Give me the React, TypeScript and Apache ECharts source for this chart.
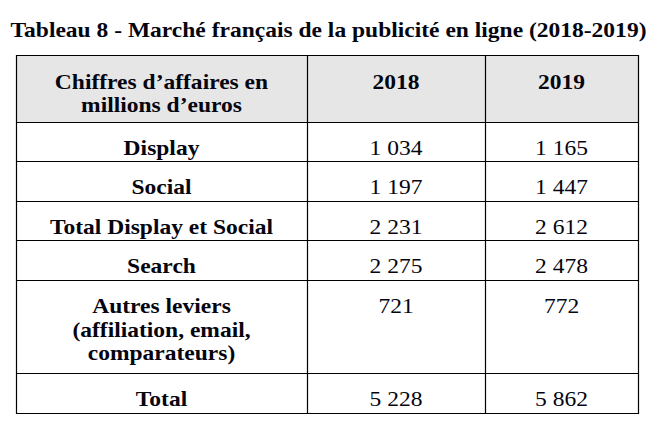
import React, { useEffect, useRef } from "react";
import * as echarts from "echarts";

const title = "Tableau 8 - Marché français de la publicité en ligne (2018-2019)";
const headerLabel = ["Chiffres d’affaires en", "millions d’euros"];
const years = ["2018", "2019"];
const rowLabels: string[][] = [
  ["Display"],
  ["Social"],
  ["Total Display et Social"],
  ["Search"],
  ["Autres leviers", "(affiliation, email,", "comparateurs)"],
  ["Total"],
];
const values2018 = [1034, 1197, 2231, 2275, 721, 5228];
const values2019 = [1165, 1447, 2612, 2478, 772, 5862];

// layout
const colX = [16, 307, 485, 638];
const rowY = [55, 122, 161, 201, 240, 280, 373, 413];
const firstLineOffset = 26;
const lineStep = 23.5;
const FONT_FAMILY = "'Times New Roman', 'Liberation Serif', Tinos, serif";
const TEXT_COLOR = "#05050f";
const STRETCH = 1.12;

function fmt(v: number): string {
  return String(v).replace(/\B(?=(\d{3})+(?!\d))/g, " ");
}

export default function App() {
  const ref = useRef<HTMLDivElement>(null);
  useEffect(() => {
    if (!ref.current) return;
    const chart = echarts.init(ref.current, undefined, { renderer: "svg" });
    const els: any[] = [];
    els.push({
      type: "rect",
      shape: { x: colX[0], y: rowY[0], width: colX[3] - colX[0], height: rowY[1] - rowY[0] },
      style: { fill: "#e6e6e6" },
      z: 0,
    });
    els.push({
      type: "text",
      x: 328.5,
      y: 30,
      scaleX: STRETCH,
      style: {
        text: title,
        fontFamily: FONT_FAMILY,
        fontWeight: "bold",
        fontSize: 21,
        fill: TEXT_COLOR,
        align: "center",
        verticalAlign: "middle",
      },
      z: 2,
    });
    const textEl = (s: string, x: number, y: number, bold: boolean) => ({
      type: "text",
      x,
      y,
      scaleX: STRETCH,
      style: {
        text: s,
        fontFamily: FONT_FAMILY,
        fontWeight: bold ? "bold" : "normal",
        fontSize: 21,
        fill: TEXT_COLOR,
        align: "center",
        verticalAlign: "middle",
      },
      z: 2,
    });
    const c0 = (colX[0] + colX[1]) / 2;
    const c1 = (colX[1] + colX[2]) / 2;
    const c2 = (colX[2] + colX[3]) / 2;
    headerLabel.forEach((l, i) => els.push(textEl(l, c0, rowY[0] + 27 + i * 23, true)));
    els.push(textEl(years[0], c1, rowY[0] + 27, true));
    els.push(textEl(years[1], c2, rowY[0] + 27, true));
    rowLabels.forEach((lines, r) => {
      const top = rowY[r + 1];
      lines.forEach((l, i) => els.push(textEl(l, c0, top + firstLineOffset + i * lineStep, true)));
      els.push(textEl(fmt(values2018[r]), c1, top + firstLineOffset, false));
      els.push(textEl(fmt(values2019[r]), c2, top + firstLineOffset, false));
    });
    const lineStyle = { stroke: "#000", lineWidth: 1.2 };
    rowY.forEach((y) =>
      els.push({
        type: "line",
        shape: { x1: colX[0], y1: y + 0.5, x2: colX[3] + 1, y2: y + 0.5 },
        style: lineStyle,
        z: 3,
      })
    );
    colX.forEach((x) =>
      els.push({
        type: "line",
        shape: { x1: x + 0.5, y1: rowY[0], x2: x + 0.5, y2: rowY[rowY.length - 1] + 1 },
        style: lineStyle,
        z: 3,
      })
    );
    chart.setOption({
      animation: false,
      backgroundColor: "#ffffff",
      graphic: { elements: els },
    });
    return () => chart.dispose();
  }, []);
  return (
    <div
      ref={ref}
      style={{ position: "fixed", left: 0, top: 0, width: 657, height: 426 }}
    />
  );
}
